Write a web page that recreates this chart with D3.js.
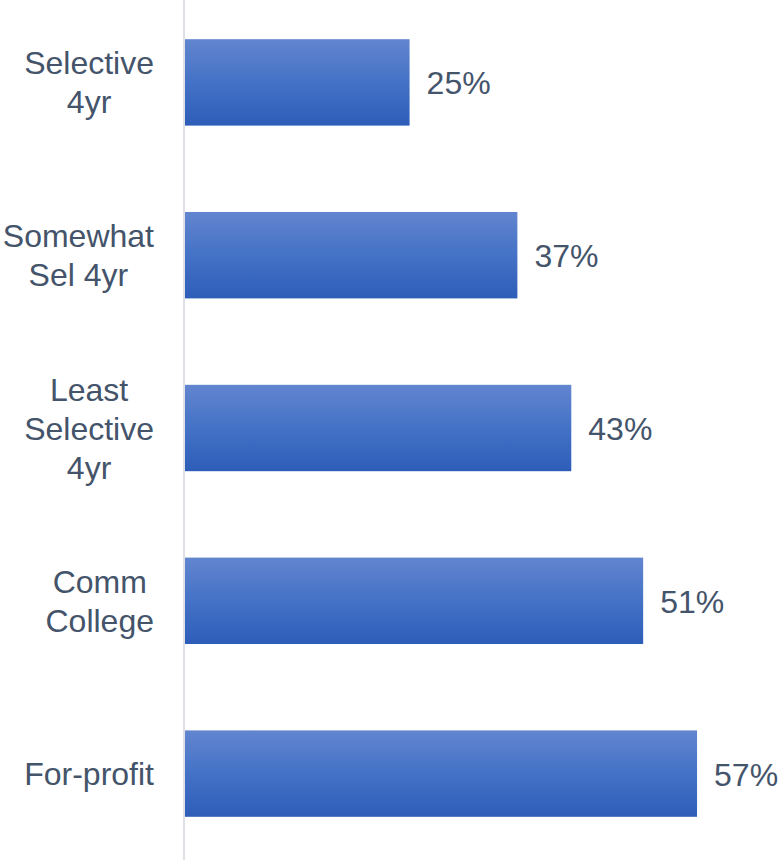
<!DOCTYPE html>
<html>
<head>
<meta charset="utf-8">
<script src="https://cdn.jsdelivr.net/npm/d3@7"></script>
<style>
  html, body { margin: 0; padding: 0; background: #ffffff; }
  svg { display: block; }
  text { font-family: "Liberation Sans", Arial, sans-serif; fill: #44546a; }
</style>
</head>
<body>
<svg id="chart" width="778" height="864"></svg>
<script>
// Share of students by sector
const categories = [
  ["Selective", "4yr"],
  ["Somewhat", "Sel 4yr"],
  ["Least", "Selective", "4yr"],
  ["Comm", "College"],
  ["For-profit"]
];
const values = [25, 37, 43, 51, 57];

const W = 778, H = 864;
const axisX = 184;
const svg = d3.select("#chart");

const keys = categories.map(c => c.join(" "));

const y = d3.scaleBand()
  .domain(keys)
  .range([-4, 860])
  .paddingInner(0.5)
  .paddingOuter(0.25);

const x = d3.scaleLinear()
  .domain([0, 60])
  .range([185, 724]);

// vertical gradient fill for bars
const defs = svg.append("defs");
const grad = defs.append("linearGradient")
  .attr("id", "barGrad")
  .attr("x1", 0).attr("y1", 0).attr("x2", 0).attr("y2", 1);
grad.append("stop").attr("offset", "0%").attr("stop-color", "#6285cf");
grad.append("stop").attr("offset", "50%").attr("stop-color", "#4472c6");
grad.append("stop").attr("offset", "100%").attr("stop-color", "#2e5db9");

const data = keys.map((k, i) => ({ key: k, lines: categories[i], value: values[i] }));

// bars
svg.append("g").selectAll("rect")
  .data(data)
  .join("rect")
  .attr("x", x(0))
  .attr("y", d => y(d.key))
  .attr("width", d => x(d.value) - x(0))
  .attr("height", y.bandwidth())
  .attr("fill", "url(#barGrad)");

// category axis line
svg.append("line")
  .attr("x1", axisX).attr("x2", axisX)
  .attr("y1", 0).attr("y2", 860)
  .attr("stroke", "#dde0e6")
  .attr("stroke-width", 2);

// value labels
svg.append("g").selectAll("text")
  .data(data)
  .join("text")
  .attr("x", d => x(d.value) + 17)
  .attr("y", d => y(d.key) + y.bandwidth() / 2 + 12)
  .attr("font-size", 32)
  .text(d => d.value + "%");

// category labels: lines centred within a block that is right-aligned
const blockRight = 154;
const lineH = 39;
const labels = svg.append("g").selectAll("g")
  .data(data)
  .join("g");

labels.each(function (d) {
  const g = d3.select(this);
  const cy = y(d.key) + y.bandwidth() / 2;
  const n = d.lines.length;
  const texts = g.selectAll("text")
    .data(d.lines)
    .join("text")
    .attr("font-size", 32)
    .attr("text-anchor", "middle")
    .attr("y", (t, i) => cy + (i - (n - 1) / 2) * lineH + 11.5)
    .text(t => t);
  let maxW = 0;
  texts.each(function () { maxW = Math.max(maxW, this.getComputedTextLength()); });
  texts.attr("x", blockRight - maxW / 2);
});
</script>
</body>
</html>
